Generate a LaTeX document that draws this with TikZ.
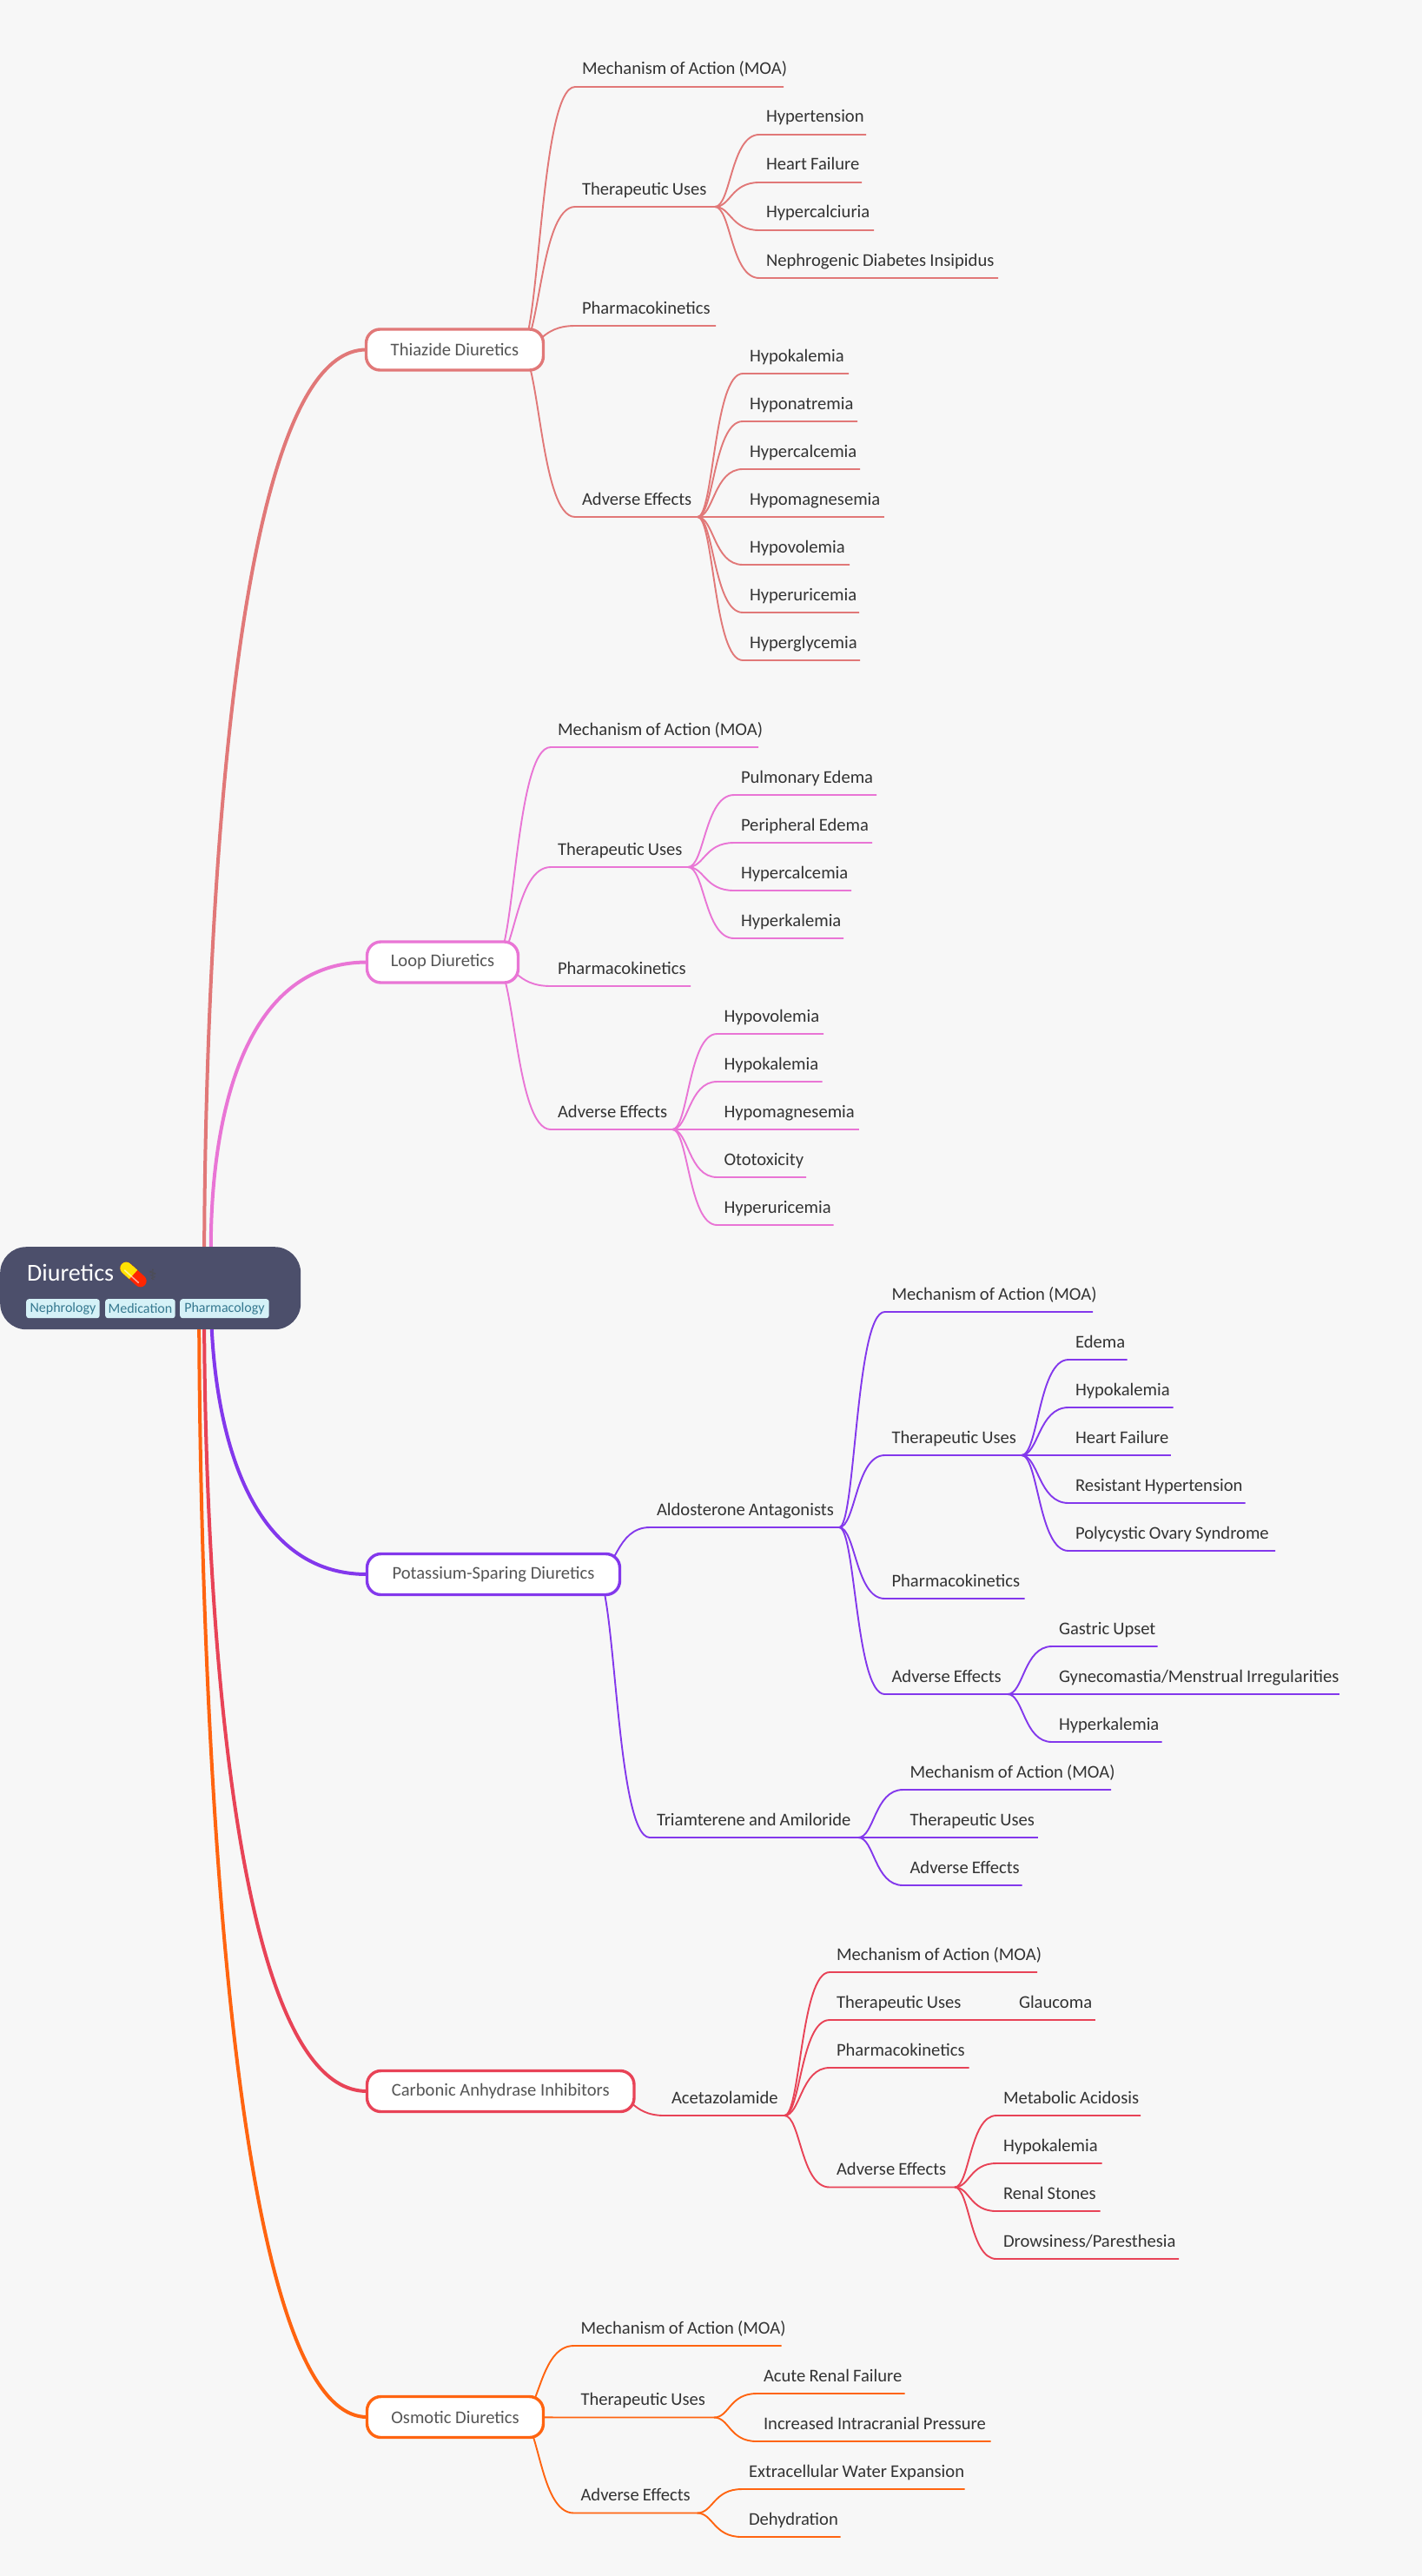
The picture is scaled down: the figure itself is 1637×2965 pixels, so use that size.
\documentclass[tikz,border=0pt]{standalone}
\usepackage{fontspec}
\setmainfont{Carlito}
\newfontfamily\symbolfont{DejaVu Sans}
\usetikzlibrary{calc,backgrounds}
\definecolor{paper}{HTML}{F7F7F7}
\definecolor{slate}{HTML}{4C4F6B}
\definecolor{tagfill}{HTML}{D5F1F7}
\definecolor{tagtext}{HTML}{35788F}
\definecolor{ink}{HTML}{333333}
\definecolor{hubink}{HTML}{555555}
\definecolor{thzcol}{HTML}{E17878}
\definecolor{loopcol}{HTML}{E975D5}
\definecolor{potcol}{HTML}{8338EC}
\definecolor{cahcol}{HTML}{E84357}
\definecolor{osmcol}{HTML}{FF6410}
\newcommand{\branch}[2]{\draw let \p1=(#1), \p2=(#2.south west), \n1={\x1+0.36*(\x2-\x1)} in
 (\p1) .. controls (\n1,\y1) and (\n1,\y2) .. (\p2) -- (#2.south east);}
\newcommand{\trunk}[4]{\draw[line width=4pt,#1] ([xshift=#3]root.center) .. controls ([xshift=#3]root.center) and (#4,0 |- #2.west) .. (#2.west);}
\begin{document}
\begin{tikzpicture}[
 x=1pt,y=-1pt,
 twig/.style={anchor=south west,inner sep=0pt,outer sep=0pt,align=left,text width=#1,text height=16pt,text depth=14pt,
  text=ink,font=\fontsize{20.6}{24}\selectfont,
  execute at begin node={\spaceskip=.2em\relax\hspace*{8pt}\hbox to 0pt\bgroup},execute at end node={\hss\egroup}},
 hub/.style={draw=#1,fill=white,line width=3.4pt,rounded corners=16pt,anchor=west,outer sep=0pt,minimum height=47pt,
  text=hubink,font=\fontsize{20.6}{24}\selectfont},
 tag/.style={fill=tagfill,text=tagtext,rounded corners=3pt,inner sep=0pt,minimum height=22pt,anchor=north west,
  font=\fontsize{16}{18}\selectfont},
 twigline/.style={line width=1.9pt}
]
\node (root) [fill=slate,rounded corners=30pt,minimum width=346pt,minimum height=95pt,inner sep=0pt,anchor=north west] at (0,1435) {};
\node (title) [anchor=base west,inner sep=0pt,text=white,font=\fontsize{28}{32}\selectfont] at (31,1474) {Diuretics};
\node (staff) [inner sep=0pt,text=black!70,font=\symbolfont\fontsize{17}{18}\selectfont] at (176,1467) {⚕};
\node (tag-neph) [tag,minimum width=84.5pt] at (30,1495) {Nephrology};
\node (tag-med) [tag,minimum width=80.5pt] at (121,1495) {Medication};
\node (tag-pharm) [tag,minimum width=102.5pt] at (207,1495) {Pharmacology};
\begin{scope}[shift={(153.5,1467)},rotate=-42]
\fill[red!70!orange,rounded corners=7pt] (-18,-7) rectangle (18,7);
\begin{scope}
\clip (-18,-7) rectangle (0,7);
\fill[yellow!85!orange,rounded corners=7pt] (-18,-7) rectangle (18,7);
\end{scope}
\draw[white,opacity=.6,line width=1.5pt] (-11,3) -- (11,3);
\end{scope}

\node (thz) [hub=thzcol,minimum width=204pt] at (421.5,402.5) {Thiazide Diuretics};
\node (thz-moa) [twig=240pt] at (662,100) {Mechanism of Action (MOA)};
\node (thz-uses) [twig=161pt] at (662,238) {Therapeutic Uses};
\node (thz-use1) [twig=123pt] at (874,155) {Hypertension};
\node (thz-use2) [twig=118pt] at (874,210) {Heart Failure};
\node (thz-use3) [twig=132pt] at (874,265) {Hypercalciuria};
\node (thz-use4) [twig=275pt] at (874,320) {Nephrogenic Diabetes Insipidus};
\node (thz-pk) [twig=162pt] at (662,375) {Pharmacokinetics};
\node (thz-adv) [twig=141pt] at (662,595) {Adverse Effects};
\node (thz-adv1) [twig=122pt] at (855,430) {Hypokalemia};
\node (thz-adv2) [twig=132pt] at (855,485) {Hyponatremia};
\node (thz-adv3) [twig=135pt] at (855,540) {Hypercalcemia};
\node (thz-adv4) [twig=163pt] at (855,595) {Hypomagnesemia};
\node (thz-adv5) [twig=123pt] at (855,650) {Hypovolemia};
\node (thz-adv6) [twig=134pt] at (855,705) {Hyperuricemia};
\node (thz-adv7) [twig=135pt] at (855,760) {Hyperglycemia};

\node (loop) [hub=loopcol,minimum width=174pt] at (422.5,1107.5) {Loop Diuretics};
\node (loop-moa) [twig=239pt] at (634,860) {Mechanism of Action (MOA)};
\node (loop-uses) [twig=158pt] at (634,998) {Therapeutic Uses};
\node (loop-use1) [twig=164pt] at (845,915) {Pulmonary Edema};
\node (loop-use2) [twig=159pt] at (845,970) {Peripheral Edema};
\node (loop-use3) [twig=135pt] at (845,1025) {Hypercalcemia};
\node (loop-use4) [twig=126pt] at (845,1080) {Hyperkalemia};
\node (loop-pk) [twig=161pt] at (634,1135) {Pharmacokinetics};
\node (loop-adv) [twig=140pt] at (634,1300) {Adverse Effects};
\node (loop-adv1) [twig=122.5pt] at (825.5,1190) {Hypovolemia};
\node (loop-adv2) [twig=121pt] at (825.5,1245) {Hypokalemia};
\node (loop-adv3) [twig=163pt] at (825.5,1300) {Hypomagnesemia};
\node (loop-adv4) [twig=102.5pt] at (825.5,1355) {Ototoxicity};
\node (loop-adv5) [twig=134pt] at (825.5,1410) {Hyperuricemia};

\node (pot) [hub=potcol,minimum width=291pt] at (422.5,1812) {Potassium-Sparing Diuretics};
\node (ald) [twig=218pt] at (748,1758) {Aldosterone Antagonists};
\node (ald-moa) [twig=239.5pt] at (1018.5,1510) {Mechanism of Action (MOA)};
\node (ald-uses) [twig=157.5pt] at (1018.5,1675) {Therapeutic Uses};
\node (ald-use1) [twig=67.5pt] at (1230,1565) {Edema};
\node (ald-use2) [twig=120.5pt] at (1230,1620) {Hypokalemia};
\node (ald-use3) [twig=118pt] at (1230,1675) {Heart Failure};
\node (ald-use4) [twig=203.5pt] at (1230,1730) {Resistant Hypertension};
\node (ald-use5) [twig=238pt] at (1230,1785) {Polycystic Ovary Syndrome};
\node (ald-pk) [twig=161pt] at (1018.5,1840) {Pharmacokinetics};
\node (ald-adv) [twig=141.5pt] at (1018.5,1950) {Adverse Effects};
\node (ald-adv1) [twig=121.5pt] at (1211,1895) {Gastric Upset};
\node (ald-adv2) [twig=330.5pt] at (1211,1950) {Gynecomastia/Menstrual Irregularities};
\node (ald-adv3) [twig=126.5pt] at (1211,2005) {Hyperkalemia};
\node (tri) [twig=240pt] at (748,2115) {Triamterene and Amiloride};
\node (tri-moa) [twig=239.5pt] at (1039.5,2060) {Mechanism of Action (MOA)};
\node (tri-uses) [twig=155pt] at (1039.5,2115) {Therapeutic Uses};
\node (tri-adv) [twig=137pt] at (1039.5,2170) {Adverse Effects};

\node (cah) [hub=cahcol,minimum width=307.5pt] at (422.5,2407) {Carbonic Anhydrase Inhibitors};
\node (ace) [twig=138pt] at (765,2435) {Acetazolamide};
\node (ace-moa) [twig=239pt] at (955,2270) {Mechanism of Action (MOA)};
\node (ace-uses) [twig=160pt] at (955,2325) {Therapeutic Uses};
\node (ace-use1) [twig=96pt] at (1165,2325) {Glaucoma};
\node (ace-pk) [twig=160.5pt] at (955,2380) {Pharmacokinetics};
\node (ace-adv) [twig=144pt] at (955,2517.5) {Adverse Effects};
\node (ace-adv1) [twig=166pt] at (1147,2435) {Metabolic Acidosis};
\node (ace-adv2) [twig=121.5pt] at (1147,2490) {Hypokalemia};
\node (ace-adv3) [twig=119.5pt] at (1147,2545) {Renal Stones};
\node (ace-adv4) [twig=210pt] at (1147,2600) {Drowsiness/Paresthesia};

\node (osm) [hub=osmcol,minimum width=203pt] at (422.5,2782) {Osmotic Diuretics};
\node (osm-moa) [twig=239pt] at (660.5,2700) {Mechanism of Action (MOA)};
\node (osm-uses) [twig=161.5pt] at (660.5,2782.5) {Therapeutic Uses};
\node (osm-use1) [twig=170.5pt] at (871,2755) {Acute Renal Failure};
\node (osm-use2) [twig=269.5pt] at (871,2810) {Increased Intracranial Pressure};
\node (osm-adv) [twig=142pt] at (660.5,2892.5) {Adverse Effects};
\node (osm-adv1) [twig=256.5pt] at (854,2865) {Extracellular Water Expansion};
\node (osm-adv2) [twig=113.5pt] at (854,2920) {Dehydration};

\begin{pgfonlayer}{background}
\fill[paper] (0,0) rectangle (1637,2965);
\begin{scope}[twigline,draw=thzcol]
\foreach \to in {thz-moa,thz-uses,thz-pk,thz-adv} {\branch{[xshift=-27pt]thz.east}{\to}}
\foreach \to in {thz-use1,thz-use2,thz-use3,thz-use4} {\branch{thz-uses.south east}{\to}}
\foreach \to in {thz-adv1,thz-adv2,thz-adv3,thz-adv4,thz-adv5,thz-adv6,thz-adv7} {\branch{thz-adv.south east}{\to}}
\end{scope}
\begin{scope}[twigline,draw=loopcol]
\foreach \to in {loop-moa,loop-uses,loop-pk,loop-adv} {\branch{[xshift=-27pt]loop.east}{\to}}
\foreach \to in {loop-use1,loop-use2,loop-use3,loop-use4} {\branch{loop-uses.south east}{\to}}
\foreach \to in {loop-adv1,loop-adv2,loop-adv3,loop-adv4,loop-adv5} {\branch{loop-adv.south east}{\to}}
\end{scope}
\begin{scope}[twigline,draw=potcol]
\foreach \to in {ald,tri} {\branch{[xshift=-27pt]pot.east}{\to}}
\foreach \to in {ald-moa,ald-uses,ald-pk,ald-adv} {\branch{ald.south east}{\to}}
\foreach \to in {ald-use1,ald-use2,ald-use3,ald-use4,ald-use5} {\branch{ald-uses.south east}{\to}}
\foreach \to in {ald-adv1,ald-adv2,ald-adv3} {\branch{ald-adv.south east}{\to}}
\foreach \to in {tri-moa,tri-uses,tri-adv} {\branch{tri.south east}{\to}}
\end{scope}
\begin{scope}[twigline,draw=cahcol]
\branch{[xshift=-27pt]cah.east}{ace}
\foreach \to in {ace-moa,ace-uses,ace-pk,ace-adv} {\branch{ace.south east}{\to}}
\branch{ace-uses.south east}{ace-use1}
\foreach \to in {ace-adv1,ace-adv2,ace-adv3,ace-adv4} {\branch{ace-adv.south east}{\to}}
\end{scope}
\begin{scope}[twigline,draw=osmcol]
\foreach \to in {osm-moa,osm-uses,osm-adv} {\branch{[xshift=-27pt]osm.east}{\to}}
\foreach \to in {osm-use1,osm-use2} {\branch{osm-uses.south east}{\to}}
\foreach \to in {osm-adv1,osm-adv2} {\branch{osm-adv.south east}{\to}}
\end{scope}
\trunk{thzcol}{thz}{62pt}{225}
\trunk{loopcol}{loop}{71pt}{215}
\trunk{potcol}{pot}{70pt}{229}
\trunk{cahcol}{cah}{62pt}{224}
\trunk{osmcol}{osm}{56pt}{221}
\end{pgfonlayer}
\useasboundingbox (0,0) rectangle (1637,2965);
\end{tikzpicture}
\end{document}
